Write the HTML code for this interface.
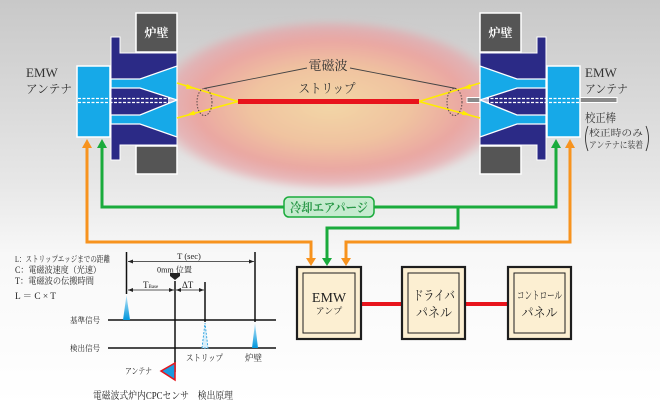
<!DOCTYPE html>
<html><head><meta charset="utf-8"><style>
html,body{margin:0;padding:0;background:#fff;}
svg{display:block;}
text{font-family:"Liberation Serif","Noto Serif CJK SC","Noto Serif CJK JP",serif;}
</style></head><body>
<svg width="660" height="405" viewBox="0 0 660 405" xmlns="http://www.w3.org/2000/svg">
<defs>
<linearGradient id="bg" x1="0" y1="0" x2="0" y2="1">
<stop offset="0" stop-color="#c8c8c8"/>
<stop offset="0.45" stop-color="#e7e7e7"/>
<stop offset="0.63" stop-color="#f8f8f8"/>
<stop offset="1" stop-color="#ffffff"/>
</linearGradient>
<radialGradient id="glow" cx="0.5" cy="0.5" r="0.5">
<stop offset="0" stop-color="#f3d6a6"/>
<stop offset="0.45" stop-color="#f0c3a0"/>
<stop offset="0.75" stop-color="#eaa7a2"/>
<stop offset="0.9" stop-color="#e8a2a5" stop-opacity="0.65"/>
<stop offset="1" stop-color="#e8a3a6" stop-opacity="0"/>
</radialGradient>
<filter id="blur" x="-10%" y="-10%" width="120%" height="120%"><feGaussianBlur stdDeviation="3"/></filter>
<linearGradient id="spike" x1="0" y1="0" x2="0" y2="1">
<stop offset="0" stop-color="#bfe6f8"/>
<stop offset="1" stop-color="#0096dc"/>
</linearGradient>
<g id="ant">
<rect x="136" y="13" width="41" height="39" fill="#555" stroke="#fff" stroke-width="1.5"/>
<rect x="136" y="146" width="41" height="28" fill="#555" stroke="#fff" stroke-width="1.5"/>
<polygon points="111,37 120,37 120,53 177,53 177,145 120,145 120,160 111,160" fill="#2b2a86" stroke="#fff" stroke-width="1"/>
<polygon points="111,79 140,79 177,66 177,100 140,88 111,88" fill="#16a9e8" stroke="#fff" stroke-width="1.3"/>
<polygon points="111,115 140,115 177,100 177,137 140,124 111,124" fill="#16a9e8" stroke="#fff" stroke-width="1.3"/>
<rect x="77" y="66" width="33" height="71" fill="#16a9e8" stroke="#fff" stroke-width="1.5"/>
<line x1="78" y1="98.5" x2="170" y2="98.5" stroke="#fff" stroke-width="1.3" stroke-dasharray="3,1.5"/>
<line x1="78" y1="102.5" x2="170" y2="102.5" stroke="#fff" stroke-width="1.3" stroke-dasharray="3,1.5"/>
<polygon points="168,97 176,100.5 168,104" fill="#fff" opacity="0.7"/>
</g>
</defs>

<rect width="660" height="405" fill="url(#bg)"/>
<ellipse cx="330" cy="105" rx="180" ry="86" fill="url(#glow)" filter="url(#blur)"/>

<rect x="467" y="97.5" width="150" height="5" fill="#8a8a8a" stroke="#fff" stroke-width="1"/>

<use href="#ant"/>
<use href="#ant" transform="translate(657,0) scale(-1,1)"/>

<text x="156.5" y="37" font-size="12" fill="#fff" text-anchor="middle" font-weight="bold">炉壁</text>
<text x="500.5" y="37" font-size="12" fill="#fff" text-anchor="middle" font-weight="bold">炉壁</text>

<g stroke="#ffec00" stroke-width="1.6">
<line x1="177" y1="83" x2="238" y2="101.5"/>
<line x1="177" y1="118" x2="238" y2="101.5"/>
<line x1="419" y1="101.5" x2="480" y2="83"/>
<line x1="419" y1="101.5" x2="480" y2="118"/>
</g>
<g fill="#ffec00">
<polygon points="195,88.5 187,84 186,89"/>
<polygon points="186,115.5 194,110.5 195,115"/>
<polygon points="462,88.5 470,84 471,89"/>
<polygon points="471,115.5 463,110.5 462,115"/>
</g>
<rect x="238" y="99" width="181" height="5" fill="#e8141c"/>
<ellipse cx="204.5" cy="102" rx="7.5" ry="13.5" fill="none" stroke="#5a4a4a" stroke-width="1" stroke-dasharray="1.5,1.5"/>
<ellipse cx="454.5" cy="102" rx="7.5" ry="13.5" fill="none" stroke="#5a4a4a" stroke-width="1" stroke-dasharray="1.5,1.5"/>
<line x1="307" y1="68" x2="204" y2="88.5" stroke="#444" stroke-width="0.9"/>
<line x1="350" y1="68" x2="456" y2="88.5" stroke="#444" stroke-width="0.9"/>
<text x="328" y="70" font-size="13" fill="#333" text-anchor="middle">電磁波</text>
<text x="327" y="93" font-size="13" fill="#333" text-anchor="middle" textLength="57" lengthAdjust="spacingAndGlyphs">ストリップ</text>

<text x="26" y="77" font-size="13" fill="#333">EMW</text>
<text x="26" y="93" font-size="12" fill="#333" textLength="46" lengthAdjust="spacingAndGlyphs">アンテナ</text>
<text x="585" y="77" font-size="13" fill="#333">EMW</text>
<text x="585" y="93" font-size="12" fill="#333" textLength="43" lengthAdjust="spacingAndGlyphs">アンテナ</text>
<text x="585" y="122" font-size="12" fill="#333" textLength="31" lengthAdjust="spacingAndGlyphs">校正棒</text>
<text x="589" y="136" font-size="9" fill="#333" textLength="54" lengthAdjust="spacingAndGlyphs">校正時のみ</text>
<text x="589" y="148" font-size="9" fill="#333" textLength="54" lengthAdjust="spacingAndGlyphs">アンテナに装着</text>
<path d="M588,126 Q583,138 588,151" fill="none" stroke="#333" stroke-width="0.9"/>
<path d="M646,126 Q651,138 646,151" fill="none" stroke="#333" stroke-width="0.9"/>

<g fill="none" stroke-width="3" stroke-linejoin="miter">
<path d="M87,146 V242 H311 V259" stroke="#f7931e"/>
<path d="M570,146 V242 H346 V259" stroke="#f7931e"/>
<path d="M102,146 V207 H556 V146" stroke="#1aab3c"/>
<path d="M458,207 V228 H327 V259" stroke="#1aab3c"/>
</g>
<g>
<polygon points="82,148 87,139 92,148" fill="#f7931e"/>
<polygon points="565,148 570,139 575,148" fill="#f7931e"/>
<polygon points="97,148 102,139 107,148" fill="#1aab3c"/>
<polygon points="551,148 556,139 561,148" fill="#1aab3c"/>
<polygon points="306,258 311,266 316,258" fill="#f7931e"/>
<polygon points="341,258 346,266 351,258" fill="#f7931e"/>
<polygon points="322,258 327,266 332,258" fill="#1aab3c"/>
</g>
<rect x="284" y="197" width="90" height="20" rx="5" fill="#c6ebcf" stroke="#1aab3c" stroke-width="1.5"/>
<text x="329" y="212" font-size="12.5" fill="#2c9a4a" text-anchor="middle" font-weight="bold" textLength="78" lengthAdjust="spacingAndGlyphs">冷却エアパージ</text>

<line x1="361" y1="304" x2="402" y2="304" stroke="#e8141c" stroke-width="4"/>
<line x1="465" y1="304" x2="508" y2="304" stroke="#e8141c" stroke-width="4"/>
<g fill="#fcefd2" stroke="#1e1e1e">
<rect x="297" y="267" width="64" height="72" stroke-width="2.2"/>
<rect x="303" y="273" width="52" height="60" stroke-width="1" fill="none"/>
<rect x="402" y="267" width="63" height="72" stroke-width="2.2"/>
<rect x="408" y="273" width="51" height="60" stroke-width="1" fill="none"/>
<rect x="508" y="267" width="63" height="72" stroke-width="2.2"/>
<rect x="514" y="273" width="51" height="60" stroke-width="1" fill="none"/>
</g>
<text x="329" y="302" font-size="14" fill="#222" text-anchor="middle">EMW</text>
<text x="329" y="314" font-size="9" fill="#222" text-anchor="middle">アンプ</text>
<text x="434" y="300" font-size="13" fill="#222" text-anchor="middle" textLength="42" lengthAdjust="spacingAndGlyphs">ドライバ</text>
<text x="434" y="317" font-size="13" fill="#222" text-anchor="middle" textLength="36" lengthAdjust="spacingAndGlyphs">パネル</text>
<text x="539.5" y="299" font-size="11" fill="#222" text-anchor="middle" textLength="45" lengthAdjust="spacingAndGlyphs">コントロール</text>
<text x="539.5" y="317" font-size="13" fill="#222" text-anchor="middle" textLength="36" lengthAdjust="spacingAndGlyphs">パネル</text>

<g fill="#222">
<text x="15" y="262" font-size="8.5" textLength="95" lengthAdjust="spacingAndGlyphs">L：ストリップエッジまでの距離</text>
<text x="15" y="273" font-size="9" textLength="86" lengthAdjust="spacingAndGlyphs">C：電磁波速度（光速）</text>
<text x="15" y="284" font-size="9" textLength="79" lengthAdjust="spacingAndGlyphs">T：電磁波の伝搬時間</text>
<text x="15" y="299" font-size="9.5" textLength="41" lengthAdjust="spacingAndGlyphs">L ＝ C × T</text>
<text x="70" y="323" font-size="8" textLength="30" lengthAdjust="spacingAndGlyphs">基準信号</text>
<text x="70" y="351" font-size="8" textLength="30" lengthAdjust="spacingAndGlyphs">検出信号</text>
<text x="186" y="361" font-size="9" textLength="37" lengthAdjust="spacingAndGlyphs">ストリップ</text>
<text x="245" y="361" font-size="9" textLength="17" lengthAdjust="spacingAndGlyphs">炉壁</text>
<text x="125" y="374" font-size="8.5" textLength="27" lengthAdjust="spacingAndGlyphs">アンテナ</text>
<text x="93" y="399" font-size="10" textLength="140" lengthAdjust="spacingAndGlyphs">電磁波式炉内CPCセンサ　検出原理</text>
<text x="189" y="259" font-size="8.5" text-anchor="middle">T (sec)</text>
<text x="157" y="272.5" font-size="8" textLength="35" lengthAdjust="spacingAndGlyphs">0mm 位置</text>
<text x="143" y="288" font-size="9">T<tspan font-size="5">Base</tspan></text>
<text x="182" y="288" font-size="9">ΔT</text>
</g>
<g stroke="#111" stroke-width="1.5">
<line x1="108" y1="320" x2="276" y2="320"/>
<line x1="108" y1="348" x2="276" y2="348"/>
<line x1="126.5" y1="252" x2="126.5" y2="294"/>
<line x1="175" y1="281" x2="175" y2="372"/>
<line x1="205" y1="282" x2="205" y2="322"/>
<line x1="255" y1="252" x2="255" y2="322"/>
</g>
<g stroke="#222" stroke-width="0.8">
<line x1="128" y1="261.5" x2="254" y2="261.5"/>
<line x1="128" y1="290" x2="174" y2="290"/>
<line x1="176" y1="290" x2="204" y2="290"/>
</g>
<g fill="#222">
<polygon points="128,261.5 133,259.5 133,263.5"/>
<polygon points="254,261.5 249,259.5 249,263.5"/>
<polygon points="128,290 133,288 133,292"/>
<polygon points="174,290 169,288 169,292"/>
<polygon points="176,290 181,288 181,292"/>
<polygon points="204,290 199,288 199,292"/>
<polygon points="170,273 180,273 180,276 175,280 170,276"/>
</g>
<polygon points="123,320 126.5,295 130,320" fill="url(#spike)"/>
<polygon points="252,348 255,323 258,348" fill="url(#spike)"/>
<polygon points="202,348 205,323 208,348" fill="#d8eef9" stroke="#2aa0e0" stroke-width="0.9" stroke-dasharray="2,1.5"/>
<polygon points="161,371 175,363 175,380" fill="#1a9be0" stroke="#e8141c" stroke-width="1.5"/>
</svg>
</body></html>
